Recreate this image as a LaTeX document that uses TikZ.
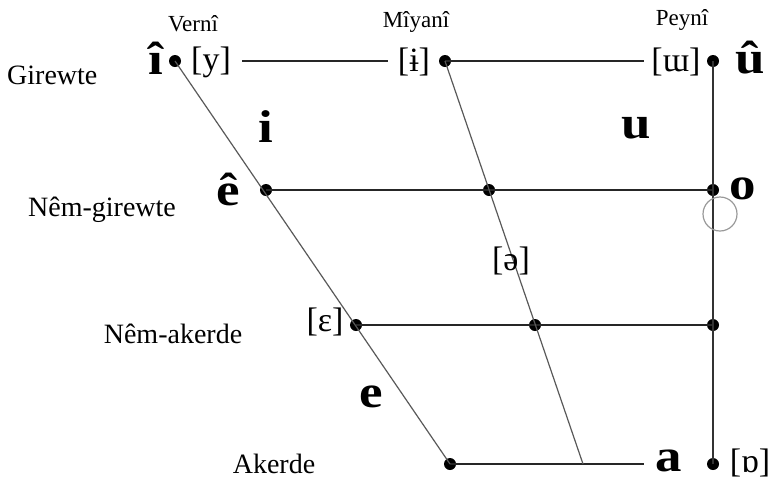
\documentclass[tikz,border=0pt]{standalone}
\usepackage{fontspec}
\setmainfont{Liberation Serif}
\usepackage{graphicx}
\newcommand{\wb}[1]{\scalebox{1.15}[1]{#1}}
\begin{document}
\begin{tikzpicture}[x=1pt,y=-1pt,
  dot/.style={circle,fill=black,inner sep=0pt,minimum size=12pt},
  lab/.style={inner sep=0pt,font=\fontsize{28}{28}\selectfont},
  head/.style={inner sep=0pt,font=\fontsize{23}{23}\selectfont},
  ipa/.style={inner sep=0pt,font=\fontsize{34}{34}\selectfont},
  vow/.style={inner sep=0pt,font=\fontsize{46}{46}\selectfont\bfseries},
  hline/.style={line width=1.7pt,black!85},
  sline/.style={line width=1.2pt,black!65},
  bline/.style={line width=1.7pt,black!80}]
\useasboundingbox (0,0) rectangle (770,480);
% dots
\node[dot] (TF) at (175,61) {};
\node[dot] (TC) at (445,61) {};
\node[dot] (TB) at (713,61) {};
\node[dot] (MF) at (266,190) {};
\node[dot] (MC) at (489,190) {};
\node[dot] (MB) at (713,190) {};
\node[dot] (LF) at (356,325) {};
\node[dot] (LC) at (535,325) {};
\node[dot] (LB) at (713,325) {};
\node[dot] (BF) at (450,464) {};
\node[dot] (BB) at (713,464) {};
\coordinate (BC) at (583,464);
\coordinate (T1) at (242,61);
\coordinate (T2) at (388,61);
\coordinate (T3) at (644,61);
\coordinate (B3) at (644,464);
% lines
\draw[hline] (T1) -- (T2);
\draw[hline] (TC.center) -- (T3);
\draw[hline] (MF.center) -- (MB.center);
\draw[hline] (LF.center) -- (LB.center);
\draw[hline] (BF.center) -- (B3);
\draw[sline] (TF.center) -- (BF.center);
\draw[sline] (TC.center) -- (BC);
\draw[bline] (TB.center) -- (BB.center);
\node[draw=black!40,line width=1.2pt,circle,minimum size=34pt,inner sep=0pt] (circ) at (720,214) {};
% labels
\node[lab,anchor=west] (girewte) at (7,75) {Girewte};
\node[lab] (nemg) at (102,210) {Nêm-girewte};
\node[lab] (nema) at (173,334) {Nêm-akerde};
\node[lab] (akerde) at (274,464) {Akerde};
\node[head] (verni) at (193,24) {Vernî};
\node[head] (miyani) at (416,22) {Mîyanî};
\node[head] (peyni) at (682,20) {Peynî};
\node[vow] (vi) at (156,58) {\wb{î}};
\node[vow] (vu) at (750,58) {\wb{û}};
\node[ipa] (iy) at (211,62) {[y]};
\node[ipa] (ibar) at (414,62) {[ɨ]};
\node[ipa] (iw) at (676,62) {[ɯ]};
\node[vow] (vi2) at (266,127) {\wb{i}};
\node[vow] (vu2) at (636,128) {\wb{u}};
\node[vow] (ve) at (228,189) {\wb{ê}};
\node[vow] (vo) at (743,189) {\wb{o}};
\node[ipa] (schwa) at (511,261) {[ə]};
\node[ipa] (eps) at (325,322) {[ɛ]};
\node[vow] (ve2) at (371,397) {\wb{e}};
\node[vow] (va) at (669,461) {\wb{a}};
\node[ipa] (turna) at (750,463) {[ɒ]};
\end{tikzpicture}
\end{document}
